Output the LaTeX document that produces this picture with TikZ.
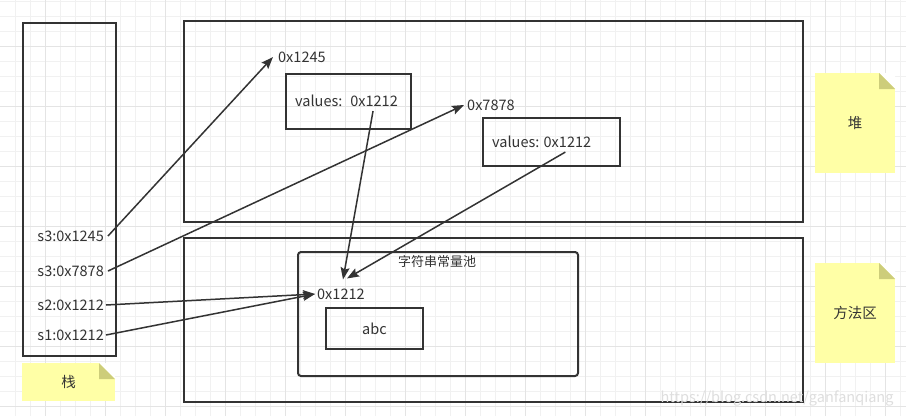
\documentclass[tikz,border=0pt]{standalone}
\usepackage{fontspec}
\setmainfont{Noto Sans CJK SC}
\usepackage{tikz}
\usetikzlibrary{arrows.meta}
\definecolor{linegray}{HTML}{333333}
\definecolor{notefill}{HTML}{FFFFA6}
\definecolor{notefold}{HTML}{CDCD7A}
\definecolor{gridminor}{HTML}{F1F1F1}
\definecolor{gridmajor}{HTML}{E4E4E4}
\tikzstyle{area} = [rectangle, draw=linegray, line width=2pt, inner sep=0pt]
\tikzstyle{objbox} = [rectangle, draw=linegray, line width=2pt, inner sep=0pt,
text=linegray]
\tikzstyle{pool} = [rectangle, rounded corners=3pt, draw=linegray, line
width=2pt, inner sep=0pt]
\tikzstyle{note} = [rectangle, fill=notefill, text=linegray, inner sep=0pt,
path picture={
\fill[white]([xshift=-16pt]path picture bounding box.north east) --
(path picture bounding box.north east) --
([yshift=-16pt]path picture bounding box.north east) -- cycle;
\fill[notefold]([xshift=-16pt]path picture bounding box.north east) --
([xshift=-16pt,yshift=-16pt]path picture bounding box.north east) --
([yshift=-16pt]path picture bounding box.north east) -- cycle;}]
\tikzstyle{lbl} = [text=linegray, inner sep=0pt]
\tikzstyle{arrow} =
[line width=1.5pt, draw=linegray, -{Stealth[length=12pt,width=9pt,inset=2pt]}]

\begin{document}
\begin{tikzpicture}[x=1pt, y=-1pt, font=\fontsize{14.5}{16}\selectfont]

\useasboundingbox[fill=white](0,0) rectangle (906,416);
\foreach \x in {15,30,...,900}
\draw[gridminor, line width=1pt](\x,0) -- (\x,416);
\foreach \y in {1.5,16.5,...,416}
\draw[gridminor, line width=1pt](0,\y) -- (906,\y);
\foreach \x in {45,105,...,900}
\draw[gridmajor, line width=1pt](\x,0) -- (\x,416);
\foreach \y in {46.5,106.5,...,416}
\draw[gridmajor, line width=1pt](0,\y) -- (906,\y);

% areas
\node(stack)[area, anchor=north west, minimum width=93, minimum height=333]
at (22,22){};
\node(heap)[area, anchor=north west, minimum width=619, minimum height=201]
at (183,20){};
\node(method)[area, anchor=north west, minimum width=619, minimum height=164]
at (183,237){};

% notes
\node(stacknote)[note, anchor=north west, minimum width=93, minimum height=38]
at (22,363){栈};
\node(heapnote)[note, anchor=north west, minimum width=80, minimum height=100]
at (815,73){堆};
\node(methodnote)[note, anchor=north west, minimum width=80, minimum height=100]
at (815,263){方法区};

% stack entries
\node(s3a)[lbl, anchor=east] at (104,236){s3:0x1245};
\node(s3b)[lbl, anchor=east] at (104,271){s3:0x7878};
\node(s2)[lbl, anchor=east] at (104,305){s2:0x1212};
\node(s1)[lbl, anchor=east] at (104,335){s1:0x1212};

% heap objects
\node(addr1245)[lbl, anchor=west] at (278,57){0x1245};
\node(obj1)[objbox, anchor=north west, minimum width=125, minimum height=55]
at (285,73){};
\node(obj1val)[lbl, anchor=west] at (295,101){values:\hspace{8pt}0x1212};
\node(addr7878)[lbl, anchor=west] at (467,105){0x7878};
\node(obj2)[objbox, anchor=north west, minimum width=137, minimum height=48]
at (482,117){};
\node(obj2val)[lbl, anchor=west] at (492,142){values: 0x1212};

% string pool
\node(pool)[pool, anchor=north west, minimum width=280, minimum height=124]
at (297,251){};
\node(poollbl)[lbl, font=\fontsize{13}{15}\selectfont] at (437,262){字符串常量池};
\node(pooladdr)[lbl, anchor=west] at (317,294){0x1212};
\node(abc)[objbox, anchor=north west, minimum width=97, minimum height=41]
at (325,307){abc};

\node(mark)[text=black!13, anchor=east] at (897,398){https://blog.csdn.net/ganfanqiang};

\draw[arrow]([xshift=4pt]s3a.east) -- ([xshift=-5pt]addr1245.west);
\draw[arrow]([xshift=4pt]s3b.east) -- ([xshift=-3pt]addr7878.west);
\draw[arrow]([xshift=2pt]s2.east) -- ([xshift=-2pt]pooladdr.west);
\draw[arrow]([xshift=2pt]s1.east) -- ([xshift=-2pt]pooladdr.west);
\draw[arrow]([xshift=-25pt,yshift=-4pt]obj1val.south east) --
([xshift=26pt,yshift=9pt]pooladdr.north west);
\draw[arrow]([xshift=-26pt,yshift=-4pt]obj2val.south east) --
([xshift=30pt,yshift=10pt]pooladdr.north west);

\end{tikzpicture}
\end{document}
